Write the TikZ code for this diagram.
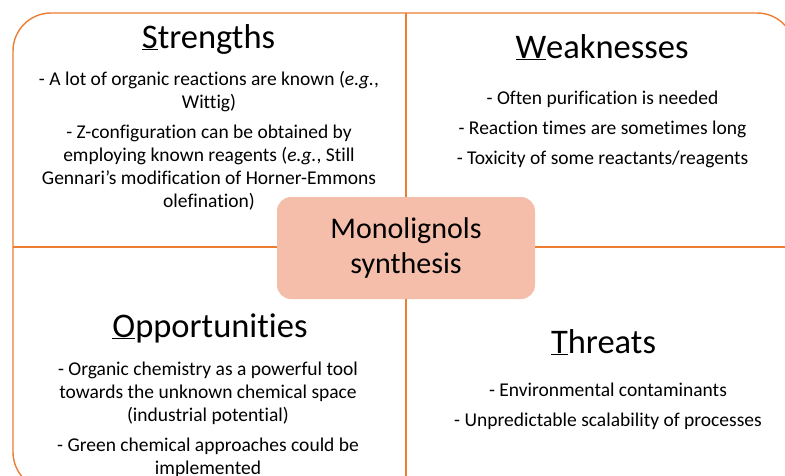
\documentclass[tikz,border=0pt]{standalone}
\usepackage{fontspec}
\setmainfont{Carlito}[Ligatures={TeX,NoCommon}]
\usepackage{tikz}
\definecolor{swotOrange}{HTML}{ED7D31}
\definecolor{swotSalmon}{RGB}{245,190,170}

\begin{document}
\begin{tikzpicture}[x=1pt, y=-1pt,
    frame/.style={draw=swotOrange, line width=1.4pt, rounded corners=38pt},
    divider/.style={draw=swotOrange, line width=1.4pt},
    hub/.style={fill=swotSalmon, rounded corners=14pt, minimum width=258pt, minimum height=102pt, align=center, font=\fontsize{30}{35}\selectfont},
    heading/.style={anchor=base, inner sep=0pt, font=\fontsize{34.5}{40}\selectfont},
    points/.style={anchor=base, inner sep=0pt, align=center, font=\fontsize{19.5}{23}\selectfont}
]
\useasboundingbox (0,0) rectangle (785,475);
\clip (0,0) rectangle (785,475);

% Outer frame, cut off at the right and bottom
\draw[frame] (13,13) rectangle (795,490);

% Centre topic
\node[hub] (hub) at (406,248) {Monolignols\\synthesis};

% Dividers between the four fields
\coordinate (topEnd) at (406,13);
\coordinate (bottomEnd) at (406,490);
\coordinate (leftEnd) at (13,247);
\coordinate (rightEnd) at (795,247);
\draw[divider] (topEnd) -- (hub.north);
\draw[divider] (hub.south) -- (bottomEnd);
\draw[divider] (leftEnd) -- (leftEnd -| hub.west);
\draw[divider] (rightEnd -| hub.east) -- (rightEnd);

% Strengths (lists are placed at the baseline of their last line)
\node[heading] (strengths) at (208.5,48) {\underline{S}trengths};
\node[points] (strengthsList) at (209,207) {
    - A lot of organic reactions are known (\textit{e.g.},\\
    Wittig)\\[7pt]
    - Z-configuration can be obtained by\\
    employing known reagents (\textit{e.g.}, Still\\
    Gennari’s modification of Horner-Emmons\\
    olefination)
};

% Weaknesses
\node[heading] (weaknesses) at (602,58) {\underline{W}eaknesses};
\node[points] (weaknessesList) at (602.5,164) {
    - Often purification is needed\\[7pt]
    - Reaction times are sometimes long\\[7pt]
    - Toxicity of some reactants/reagents
};

% Opportunities
\node[heading] (opportunities) at (210,337) {\underline{O}pportunities};
\node[points] (opportunitiesList) at (208,474) {
    - Organic chemistry as a powerful tool\\
    towards the unknown chemical space\\
    (industrial potential)\\[7pt]
    - Green chemical approaches could be\\
    implemented
};

% Threats
\node[heading] (threats) at (603.5,353) {\underline{T}hreats};
\node[points] (threatsList) at (608,426) {
    - Environmental contaminants\\[7pt]
    - Unpredictable scalability of processes
};

\end{tikzpicture}
\end{document}
